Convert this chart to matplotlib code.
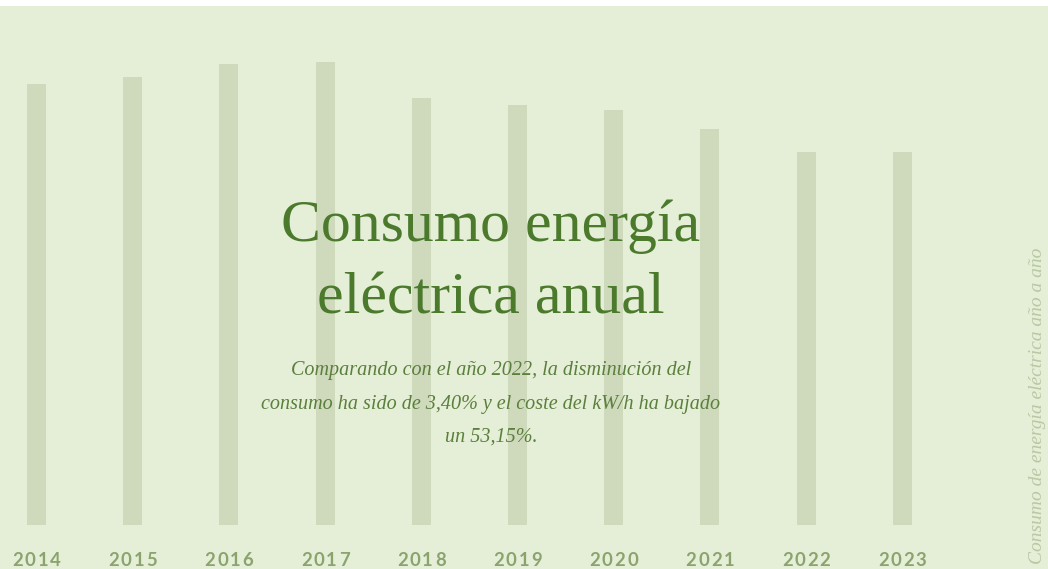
import matplotlib
matplotlib.use("Agg")
import matplotlib.pyplot as plt
import matplotlib.transforms as mtransforms

years = ["2014", "2015", "2016", "2017", "2018", "2019", "2020", "2021", "2022", "2023"]
consumo = [441, 448, 461, 463, 427, 420, 415, 396, 373, 373]

title_lines = ["Consumo energía", "eléctrica anual"]
subtitle_lines = [
    "Comparando con el año 2022, la disminución del",
    "consumo ha sido de 3,40% y el coste del kW/h ha bajado",
    "un 53,15%.",
]
side_text = "Consumo de energía eléctrica año a año"

BG = "#e5eed7"
BAR = "#cfdabd"
TITLE = "#4b7a2c"
SUB = "#5b7f3c"
YEARC = "#8ba46e"
SIDE = "#b9c8a3"

W, H = 1048, 569
fig = plt.figure(figsize=(W / 100, H / 100), dpi=100)
fig.patch.set_facecolor("white")
ax = fig.add_axes([0, 0, 1, 563 / H])
ax.set_facecolor(BG)
for s in ax.spines.values():
    s.set_visible(False)
ax.set_xticks([])
ax.set_yticks([])

step = 96.2
x0 = 36.5
ax.set_xlim(-x0 / step, (W - x0) / step)
ax.set_ylim(-44, 563 - 44)

xs = list(range(len(years)))
ax.bar(xs, consumo, width=19 / step, color=BAR, zorder=1)

# year labels with letter spacing
for i, y in enumerate(years):
    n = len(y)
    spacing = 12.6  # px per char
    for j, ch in enumerate(y):
        off = (j - (n - 1) / 2) * spacing
        tr = ax.transData + mtransforms.ScaledTranslation(off / 100, 0, fig.dpi_scale_trans)
        ax.text(i, -36, ch, transform=tr, ha="center", va="center",
                fontsize=13.3, fontweight="bold", color=YEARC, family="Lato")

# title
cx = 491 / W
fig.text(cx, 1 - 227 / H, title_lines[0], ha="center", va="center",
         fontsize=43, color=TITLE, family="Liberation Serif")
fig.text(cx, 1 - 300 / H, title_lines[1], ha="center", va="center",
         fontsize=43, color=TITLE, family="Liberation Serif")

# subtitle
for k, line in enumerate(subtitle_lines):
    fig.text(cx, 1 - (371 + 33 * k) / H, line, ha="center", va="center",
             fontsize=14.5, style="italic", color=SUB, family="Liberation Serif")

# side text
fig.text(1038 / W, 1 - 406 / H, side_text, ha="center", va="center",
         rotation=90, fontsize=14, style="italic", color=SIDE, family="Liberation Serif")

fig.savefig("out.png", dpi=100, facecolor=fig.get_facecolor())
